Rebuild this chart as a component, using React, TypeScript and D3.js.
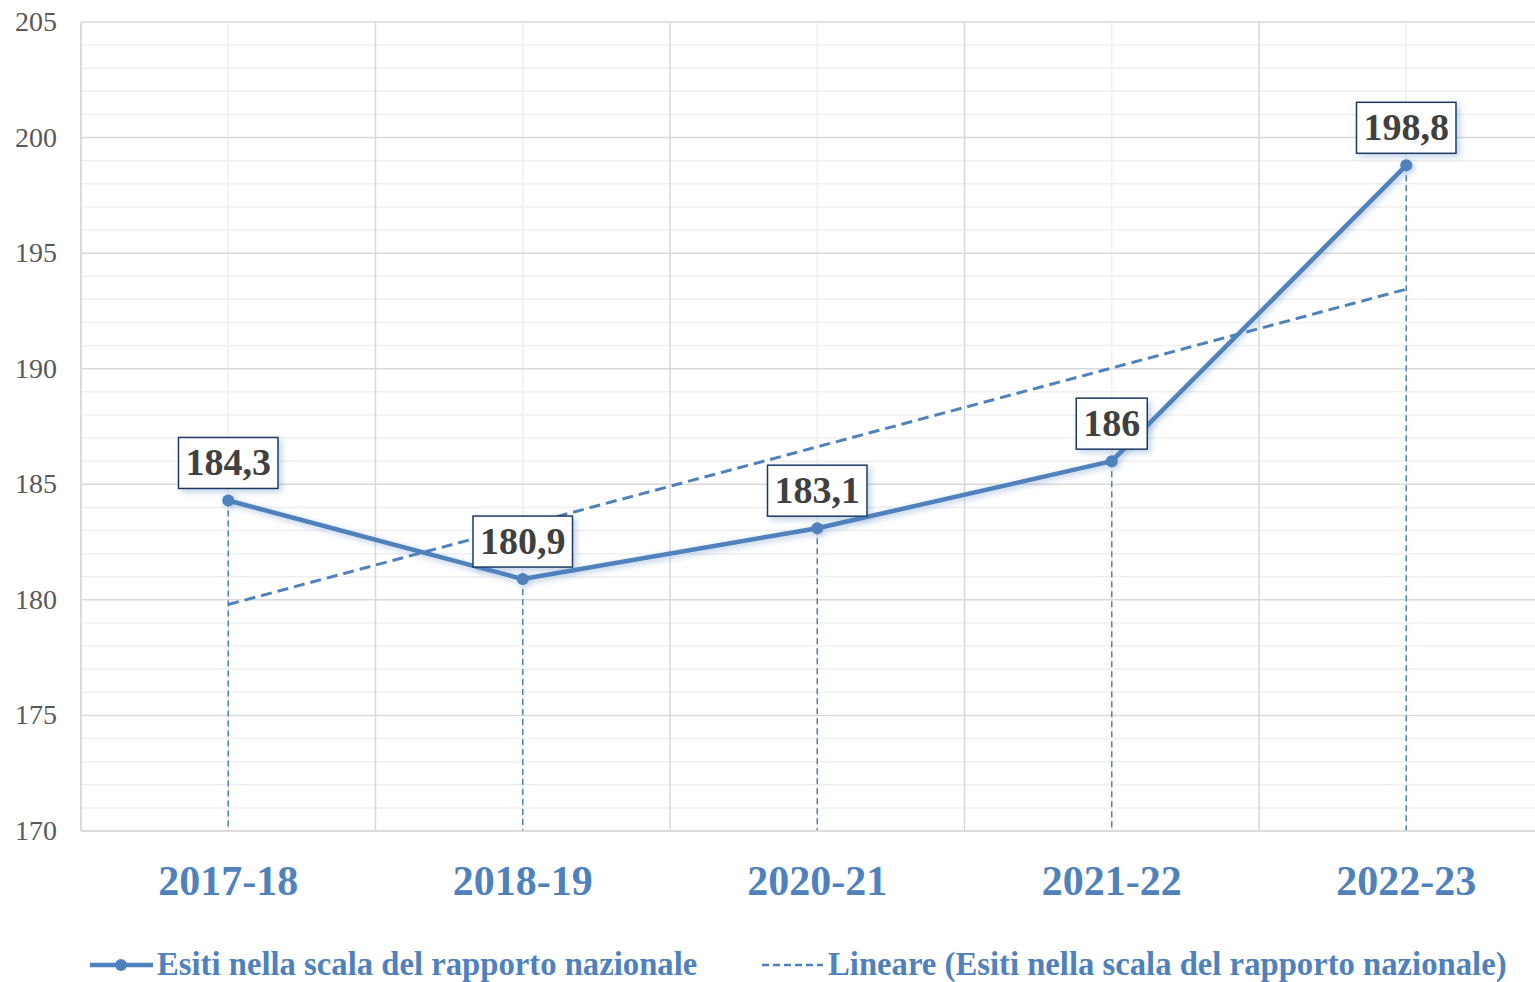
import React, { useEffect, useRef } from 'react';
import * as d3 from 'd3';

const categories = ['2017-18', '2018-19', '2020-21', '2021-22', '2022-23'];
const values = [184.3, 180.9, 183.1, 186, 198.8];
const valueLabels = ['184,3', '180,9', '183,1', '186', '198,8'];
const yTicks = [170, 175, 180, 185, 190, 195, 200, 205];
const seriesName = 'Esiti nella scala del rapporto nazionale';
const trendName = 'Lineare (Esiti nella scala del rapporto nazionale)';

const BLUE = '#4f81bd';

const App = () => {
  const svgRef = useRef<SVGSVGElement>(null);

  useEffect(() => {
    const w = 1535, h = 982;
    const left = 81, top = 22, bottom = 831;
    const svg = d3.select(svgRef.current).attr('width', w).attr('height', h);
    svg.selectAll('*').remove();

    const defs = svg.append('defs');
    const f = defs.append('filter').attr('id', 'glow').attr('x', '-10%').attr('y', '-10%').attr('width', '120%').attr('height', '120%');
    f.append('feDropShadow').attr('dx', 2).attr('dy', 2).attr('stdDeviation', 3)
      .attr('flood-color', BLUE).attr('flood-opacity', 0.45);
    const fb = defs.append('filter').attr('id', 'boxshadow').attr('x', '-20%').attr('y', '-20%').attr('width', '150%').attr('height', '150%');
    fb.append('feDropShadow').attr('dx', 3).attr('dy', 3).attr('stdDeviation', 3)
      .attr('flood-color', BLUE).attr('flood-opacity', 0.35);

    const step = 294.5;
    const x = d3.scaleBand().domain(categories).range([left, left + step * categories.length]).padding(0);
    const cx = (c: string) => (x(c) as number) + x.bandwidth() / 2;
    const y = d3.scaleLinear().domain([170, 205]).range([bottom, top]);

    const g = svg.append('g');

    // minor horizontal gridlines
    g.selectAll('.minor')
      .data(d3.range(171, 205).filter(v => v % 5 !== 0))
      .join('line')
      .attr('x1', left).attr('x2', w)
      .attr('y1', d => y(d)).attr('y2', d => y(d))
      .attr('stroke', '#f0f0f0').attr('stroke-width', 1.5);

    // light vertical lines at category centers
    g.selectAll('.vmin')
      .data(categories)
      .join('line')
      .attr('x1', d => cx(d)).attr('x2', d => cx(d))
      .attr('y1', top).attr('y2', bottom)
      .attr('stroke', '#f0f0f0').attr('stroke-width', 1.5);

    // major horizontal gridlines
    g.selectAll('.major')
      .data(yTicks)
      .join('line')
      .attr('x1', left).attr('x2', w)
      .attr('y1', d => y(d)).attr('y2', d => y(d))
      .attr('stroke', '#d9d9d9').attr('stroke-width', 1.5);

    // vertical gridlines at category boundaries
    g.selectAll('.vmaj')
      .data(categories)
      .join('line')
      .attr('x1', d => x(d) as number).attr('x2', d => x(d) as number)
      .attr('y1', top).attr('y2', bottom)
      .attr('stroke', '#d9d9d9').attr('stroke-width', 1.5);

    // y tick labels
    g.selectAll('.ytick')
      .data(yTicks)
      .join('text')
      .attr('x', 57).attr('y', d => y(d) + 9)
      .attr('text-anchor', 'end')
      .attr('font-family', '"Liberation Serif", serif')
      .attr('font-size', 28)
      .attr('fill', '#595959')
      .text(d => d);

    // category labels
    g.selectAll('.xlab')
      .data(categories)
      .join('text')
      .attr('x', d => cx(d)).attr('y', 895)
      .attr('text-anchor', 'middle')
      .attr('font-family', '"Liberation Serif", serif')
      .attr('font-weight', 'bold')
      .attr('font-size', 42)
      .attr('fill', BLUE)
      .text(d => d);

    // drop lines
    g.selectAll('.drop')
      .data(values)
      .join('line')
      .attr('x1', (d, i) => cx(categories[i])).attr('x2', (d, i) => cx(categories[i]))
      .attr('y1', d => y(d)).attr('y2', bottom)
      .attr('stroke', BLUE).attr('stroke-width', 1.5)
      .attr('stroke-dasharray', '6,4');

    // linear trend (least squares over category index)
    const xs = values.map((_, i) => i + 1);
    const mx = d3.mean(xs) as number, my = d3.mean(values) as number;
    const slope = d3.sum(xs, (xi, i) => (xi - mx) * (values[i] - my)) / d3.sum(xs, xi => (xi - mx) ** 2);
    const intercept = my - slope * mx;
    const trend = [xs[0], xs[xs.length - 1]].map(xi => ({ c: categories[xi - 1], v: intercept + slope * xi }));
    g.append('path')
      .datum(trend)
      .attr('d', d3.line<{ c: string; v: number }>().x(d => cx(d.c)).y(d => y(d.v)))
      .attr('fill', 'none')
      .attr('stroke', BLUE).attr('stroke-width', 3)
      .attr('stroke-dasharray', '11,6');

    // main series
    const series = g.append('g').attr('filter', 'url(#glow)');
    series.append('path')
      .datum(values)
      .attr('d', d3.line<number>().x((d, i) => cx(categories[i])).y(d => y(d)))
      .attr('fill', 'none')
      .attr('stroke', BLUE).attr('stroke-width', 4.5)
      .attr('stroke-linejoin', 'round');
    series.selectAll('circle')
      .data(values)
      .join('circle')
      .attr('cx', (d, i) => cx(categories[i])).attr('cy', d => y(d))
      .attr('r', 6).attr('fill', BLUE);

    // data labels
    const lab = g.selectAll('.lab')
      .data(values)
      .join('g')
      .attr('transform', (d, i) => `translate(${cx(categories[i])},${y(d) - 12})`);
    lab.append('rect')
      .attr('filter', 'url(#boxshadow)')
      .attr('fill', '#fff').attr('stroke', '#1f3864').attr('stroke-width', 1.5);
    lab.append('text')
      .attr('y', -13)
      .attr('text-anchor', 'middle')
      .attr('font-family', '"Liberation Serif", serif')
      .attr('font-weight', 'bold')
      .attr('font-size', 38)
      .attr('fill', '#404040')
      .text((d, i) => valueLabels[i]);
    lab.each(function () {
      const node = d3.select(this);
      const bb = (node.select('text').node() as SVGTextElement).getBBox();
      const pw = bb.width + 14;
      node.select('rect').attr('x', -pw / 2).attr('y', -51).attr('width', pw).attr('height', 51);
    });

    // axis lines
    g.append('line').attr('x1', left).attr('x2', left).attr('y1', top).attr('y2', bottom)
      .attr('stroke', '#d9d9d9').attr('stroke-width', 1.5);
    g.append('line').attr('x1', left).attr('x2', w).attr('y1', bottom).attr('y2', bottom)
      .attr('stroke', '#d9d9d9').attr('stroke-width', 1.5);

    // legend
    const ly = 965;
    const leg = svg.append('g');
    leg.append('line').attr('x1', 90).attr('x2', 153).attr('y1', ly).attr('y2', ly)
      .attr('stroke', BLUE).attr('stroke-width', 4.5);
    leg.append('circle').attr('cx', 121).attr('cy', ly).attr('r', 6).attr('fill', BLUE);
    leg.append('text').attr('x', 157).attr('y', ly + 10)
      .attr('font-family', '"Liberation Serif", serif').attr('font-weight', 'bold')
      .attr('font-size', 32.7).attr('fill', BLUE).text(seriesName);
    leg.append('line').attr('x1', 762).attr('x2', 823).attr('y1', ly).attr('y2', ly)
      .attr('stroke', BLUE).attr('stroke-width', 2.5).attr('stroke-dasharray', '7,4');
    leg.append('text').attr('x', 828).attr('y', ly + 10)
      .attr('font-family', '"Liberation Serif", serif').attr('font-weight', 'bold')
      .attr('font-size', 32.7).attr('fill', BLUE).text(trendName);
  }, []);

  return (
    <div style={{ position: 'absolute', left: 0, top: 0 }}>
      <svg ref={svgRef} style={{ display: 'block', background: '#fff' }}></svg>
    </div>
  );
};

export default App;
